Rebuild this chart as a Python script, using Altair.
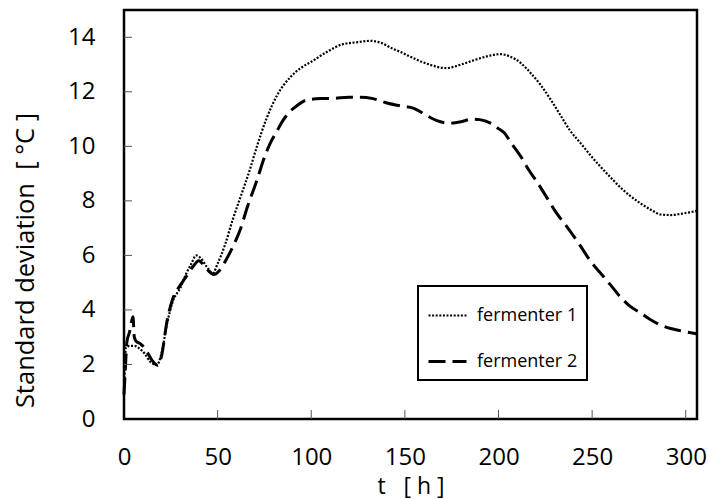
import altair as alt
import pandas as pd

# fermenter 1 (dotted)
t1 = [0, 0.5, 1, 3, 5.5, 8, 11, 14, 17.5, 20, 23, 26, 30, 33, 36, 38.5, 41, 44, 47.5,
      50, 54, 58, 62, 67, 71, 76, 82, 89, 95, 100, 108, 117, 125, 131.5, 137, 143, 148,
      155, 163, 172, 180, 187, 195, 201, 206, 212, 217, 222.5, 228, 233, 238, 244, 250,
      254.5, 260, 265, 270, 276, 282, 286.5, 292, 297, 302, 306]
v1 = [1.1, 2.0, 2.6, 2.68, 2.68, 2.6, 2.4, 2.1, 1.98, 2.4, 3.5, 4.3, 4.8, 5.3, 5.7, 6.0, 5.9, 5.6, 5.35,
      5.7, 6.4, 7.3, 8.1, 9.1, 10.0, 11.0, 11.9, 12.55, 12.9, 13.1, 13.45, 13.75, 13.82, 13.87, 13.8, 13.6, 13.45,
      13.22, 13.0, 12.87, 13.0, 13.16, 13.32, 13.38, 13.3, 13.05, 12.7, 12.25, 11.7, 11.15, 10.6, 10.1, 9.6,
      9.25, 8.85, 8.5, 8.2, 7.9, 7.65, 7.5, 7.48, 7.52, 7.58, 7.63]

# fermenter 2 (dashed)
t2 = [0, 0.7, 1.5, 3, 4.8, 5.5, 6.5, 9, 12, 15, 18, 20, 23, 26, 30, 34, 37, 40, 43, 46.5, 48,
      51, 55, 58, 62, 66, 71, 75, 78, 82, 85, 89, 92.5, 97.7, 105, 112, 120, 126, 133, 140, 148,
      154.5, 160, 164, 169, 174, 180, 186, 190, 195.7, 200, 203, 207, 212, 216, 221, 226, 231, 236,
      244, 249, 254.5, 260, 265, 270, 276, 281, 286.5, 292, 297, 302, 306]
v2 = [0.9, 1.8, 2.8, 3.2, 3.75, 3.0, 2.85, 2.75, 2.5, 2.15, 1.97, 2.3, 3.6, 4.4, 4.9, 5.3, 5.6, 5.8, 5.6, 5.35, 5.3,
      5.45, 5.9, 6.3, 6.93, 7.8, 8.76, 9.6, 10.1, 10.6, 10.96, 11.3, 11.5, 11.7, 11.75, 11.76, 11.8, 11.8, 11.75, 11.6, 11.48,
      11.4, 11.2, 11.04, 10.9, 10.85, 10.9, 11.0, 10.98, 10.85, 10.65, 10.5, 10.1, 9.62, 9.15, 8.65, 8.1, 7.55, 7.1,
      6.32, 5.8, 5.35, 4.9, 4.48, 4.15, 3.88, 3.65, 3.45, 3.32, 3.24, 3.17, 3.12]

series_names = ["fermenter 1", "fermenter 2"]
x_ticks = [0, 50, 100, 150, 200, 250, 300]
y_ticks = [0, 2, 4, 6, 8, 10, 12, 14]
x_inner_ticks = [50, 100, 150, 200, 250, 300]
y_inner_ticks = [2, 4, 6, 8, 10, 12, 14]

df = pd.concat([
    pd.DataFrame({"t": t1, "v": v1, "series": series_names[0]}),
    pd.DataFrame({"t": t2, "v": v2, "series": series_names[1]}),
])

FONT = "Open Sans"
W, H = 573, 409

xscale = alt.Scale(domain=[0, 306], nice=False, zero=True)
yscale = alt.Scale(domain=[0, 15], nice=False, zero=True)

xaxis = alt.Axis(values=x_ticks, title="t\u00a0\u00a0\u00a0[\u00a0h\u00a0]", grid=False, domain=False,
                 ticks=False, labelPadding=26, labelFontSize=24, labelFont=FONT, labelColor="black",
                 titleFont=FONT, titleFontSize=23, titleFontWeight="normal", titleColor="black",
                 titleY=67, titleBaseline="middle", labelFlush=False)
yaxis = alt.Axis(values=y_ticks, title="Standard deviation\u00a0\u00a0[\u00a0°C\u00a0]", grid=False,
                 domain=False, ticks=False, labelPadding=29, labelFontSize=24, labelFont=FONT,
                 labelColor="black", titleFont=FONT, titleFontSize=25.5, titleFontWeight="normal",
                 titleColor="black", titleX=-99, titleY=250, titleBaseline="middle", titleAngle=-90,
                 titleAlign="center", labelFlush=False)

X = alt.X("t:Q", scale=xscale, axis=xaxis)
Y = alt.Y("v:Q", scale=yscale, axis=yaxis)

lines = alt.Chart(df).mark_line(color="black", interpolate="monotone").encode(
    x=X, y=Y,
    strokeDash=alt.StrokeDash("series:N", scale=alt.Scale(domain=series_names, range=[[2, 1.6], [17, 7]]),
                              legend=alt.Legend(title=None, orient="none", legendX=294, legendY=276,
                                                symbolType="stroke", symbolSize=1444,
                                                symbolStrokeColor="black", symbolStrokeWidth=2.5,
                                                labelFont=FONT, labelFontSize=18, labelColor="black",
                                                labelOffset=9, padding=9, rowPadding=16,
                                                strokeColor="black")),
    strokeWidth=alt.StrokeWidth("series:N", scale=alt.Scale(domain=series_names, range=[2.2, 3]), legend=None),
)

left_ticks = alt.Chart(pd.DataFrame({"v": y_inner_ticks})).mark_rule(color="#555", strokeWidth=1).encode(
    y=Y, x=alt.value(0), x2=alt.value(8)
)
bottom_ticks = alt.Chart(pd.DataFrame({"t": x_inner_ticks})).mark_rule(color="#555", strokeWidth=1).encode(
    x=X, y=alt.value(H), y2=alt.value(H - 9)
)

chart = alt.layer(lines, left_ticks, bottom_ticks).properties(
    width=W, height=H,
    padding={"left": 124, "top": 10, "right": 11, "bottom": 80},
    autosize=alt.AutoSizeParams(type="none"),
    background="white",
).configure_view(stroke="black", strokeWidth=2.5).configure_legend(strokeWidth=2)

chart.save("out.html", embed_options={"renderer": "svg", "actions": False})
